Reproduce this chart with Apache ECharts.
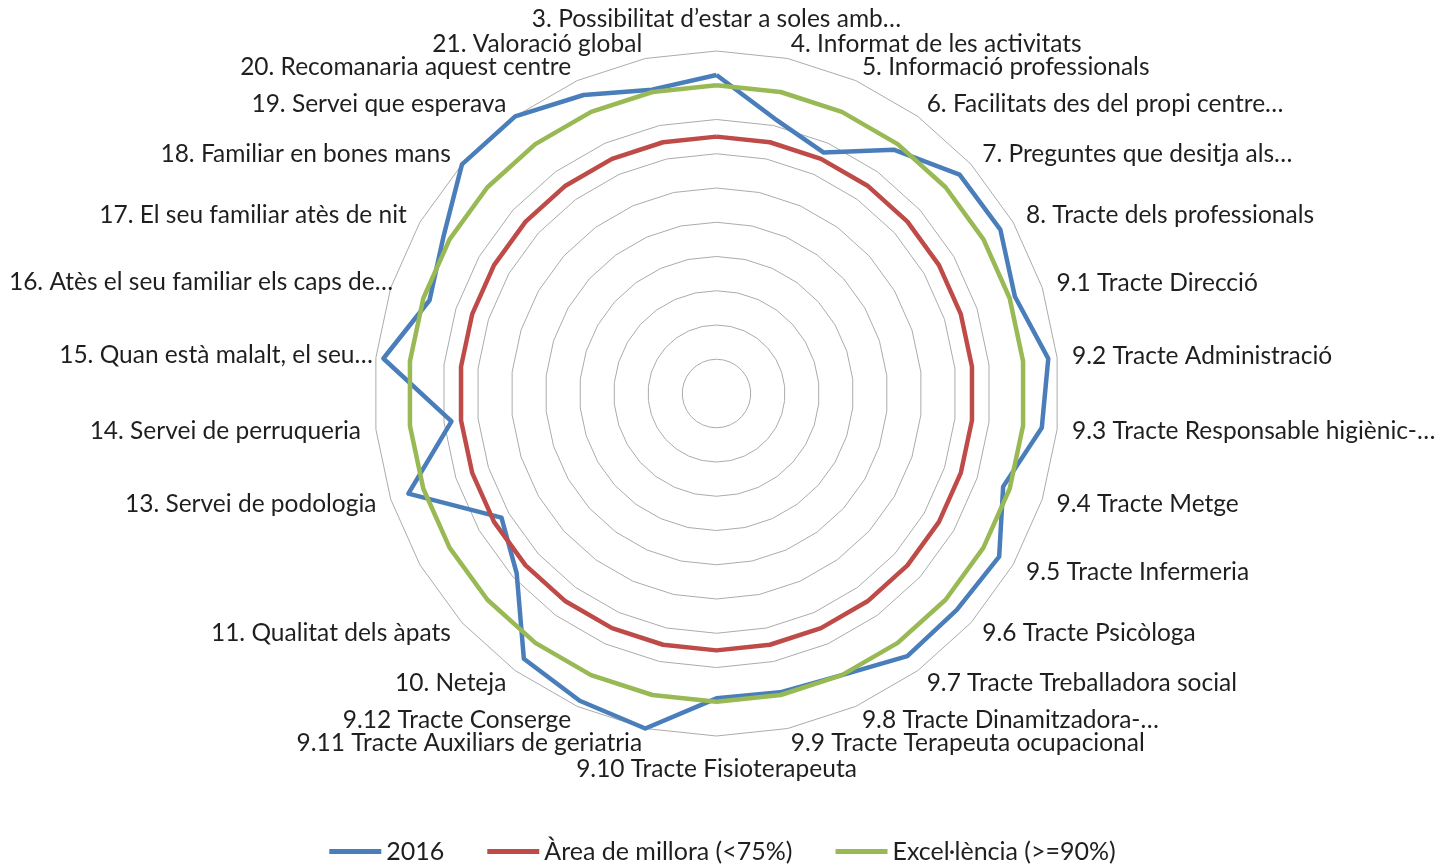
<!DOCTYPE html>
<html>
<head>
<meta charset="utf-8">
<script src="https://cdn.jsdelivr.net/npm/echarts@6/dist/echarts.min.js"></script>
<style>
html,body{margin:0;padding:0;background:#fff;}
#chart{width:1445px;height:866px;}
</style>
</head>
<body>
<div id="chart"></div>
<script>
// Categories in clockwise order starting at the top
const categories = [
  "3. Possibilitat d\u2019estar a soles amb\u2026",
  "4. Informat de les activitats",
  "5. Informació professionals",
  "6. Facilitats des del propi centre\u2026",
  "7. Preguntes que desitja als\u2026",
  "8. Tracte dels professionals",
  "9.1 Tracte Direcció",
  "9.2 Tracte Administració",
  "9.3 Tracte Responsable higiènic-\u2026",
  "9.4 Tracte Metge",
  "9.5 Tracte Infermeria",
  "9.6 Tracte Psicòloga",
  "9.7 Tracte Treballadora social",
  "9.8 Tracte Dinamitzadora-\u2026",
  "9.9 Tracte Terapeuta ocupacional",
  "9.10 Tracte Fisioterapeuta",
  "9.11 Tracte Auxiliars de geriatria",
  "9.12 Tracte Conserge",
  "10. Neteja",
  "11. Qualitat dels àpats",
  "",
  "13. Servei de podologia",
  "14. Servei de perruqueria",
  "15. Quan està malalt, el seu\u2026",
  "16. Atès el seu familiar els caps de\u2026",
  "17. El seu familiar atès de nit",
  "18. Familiar en bones mans",
  "19. Servei que esperava",
  "20. Recomanaria aquest centre",
  "21. Valoració global"
];
const values2016 = [0.93,0.82,0.77,0.88,0.955,0.957,0.916,0.974,0.955,0.88,
                    0.953,0.944,0.948,0.90,0.892,0.89,1.0,0.982,0.957,0.785,
                    0.725,0.946,0.778,0.978,0.881,0.92,1.0,1.0,0.954,0.907];
const valuesMillora = Array(30).fill(0.75);
const valuesExcel = Array(30).fill(0.90);
const seriesNames = ["2016", "Àrea de millora (<75%)", "Excel·lència (>=90%)"];
const seriesColors = ["#4A7EBB", "#BE4B48", "#98B954"];

// label placement tweaks (style only), keyed by category position
const DEFAULT_GAP = 15;
const gapOverrides = {0: 19, 15: 21, 23: 3, 24: -2.5};
const raisedLabels = {24: 'up12', 23: 'up4'};

// ECharts places radar indicators counter-clockwise; reorder so the chart reads clockwise
const order = [0];
for (let i = categories.length - 1; i >= 1; i--) order.push(i);

const chart = echarts.init(document.getElementById('chart'), null, {renderer: 'canvas'});
const FONT = 'Lato, "Open Sans", sans-serif';
const labelStyle = {fontFamily: FONT, fontSize: 24.5, color: '#1F1F1F'};
chart.setOption({
  animation: false,
  legend: {
    top: 834,
    left: 'center',
    icon: 'rect',
    itemWidth: 52,
    itemHeight: 5,
    itemGap: 43,
    textStyle: {fontFamily: FONT, fontSize: 25, color: '#1F1F1F'},
    data: seriesNames
  },
  radar: {
    center: [716.5, 393.5],
    radius: 342.5,
    startAngle: 90,
    shape: 'polygon',
    splitNumber: 10,
    nameGap: DEFAULT_GAP,
    axisName: Object.assign({}, labelStyle, {
      formatter: function (name) {
        const idx = categories.indexOf(name);
        const key = raisedLabels[idx];
        return key ? '{' + key + '|' + name + '}' : name;
      },
      rich: {
        up12: Object.assign({}, labelStyle, {padding: [0, 0, 12, 0]}),
        up4: Object.assign({}, labelStyle, {padding: [0, 0, 4, 0]})
      }
    }),
    axisLine: {show: false},
    axisTick: {show: false},
    axisLabel: {show: false},
    splitArea: {show: false},
    splitLine: {lineStyle: {color: '#ABABAB', width: 1}},
    indicator: order.map(i => ({
      name: categories[i], min: 0, max: 1,
      nameGap: (gapOverrides[i] !== undefined ? gapOverrides[i] : DEFAULT_GAP)
    }))
  },
  series: [values2016, valuesMillora, valuesExcel].map((vals, k) => ({
    type: 'radar',
    name: seriesNames[k],
    symbol: 'none',
    lineStyle: {color: seriesColors[k], width: 4.5},
    itemStyle: {color: seriesColors[k]},
    data: [{name: seriesNames[k], value: order.map(i => vals[i])}]
  }))
});
</script>
</body>
</html>
